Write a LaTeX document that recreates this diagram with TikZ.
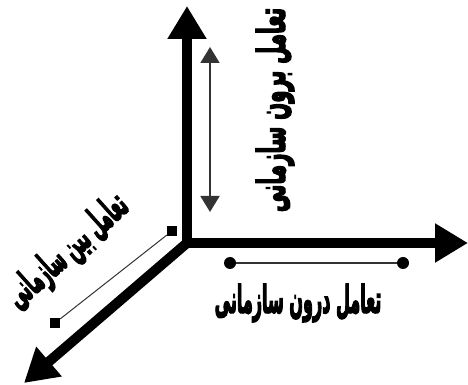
\documentclass[tikz,border=0pt]{standalone}
\usepackage{fontspec}
\usepackage{graphicx}
\usetikzlibrary{arrows.meta}
\TeXXeTstate=1
\newfontfamily\arabicfont[Script=Arabic]{DejaVu Sans}
\definecolor{ink}{HTML}{000000}
\definecolor{rule}{HTML}{333333}
\tikzset{
  axis/.style={line width=10pt, draw=ink, -{Triangle[length=33pt,width=37pt]}},
  span/.style={line width=1.8pt, draw=rule, {Triangle[length=16pt,width=19pt]}-{Triangle[length=16pt,width=19pt]}},
  bar/.style={line width=1.5pt, draw=rule},
  dot/.style={circle, fill=ink, inner sep=0pt, minimum size=12pt},
  tick/.style={rectangle, fill=ink, inner sep=0pt, minimum size=10pt},
  farsi/.style={font=\arabicfont\bfseries\fontsize{18}{20}\selectfont, inner sep=0pt}
}
% heavier glyphs: fill and stroke the outlines
\newcommand{\fa}[2][1]{\scalebox{#1}[2.1]{\special{pdf:literal direct 2 Tr 0.9 w}\beginR #2\endR\special{pdf:literal direct 0 Tr}}}

\begin{document}
\begin{tikzpicture}[x=1pt,y=1pt]
\useasboundingbox (0,0) rectangle (468,385);

% axes
\coordinate (origin) at (187,142);
\coordinate (upend) at (187,379);
\coordinate (rightend) at (468,142);
\coordinate (diagend) at (24,2);
\draw[axis] (origin) -- (upend);
\draw[axis] (origin) -- (rightend);
\draw[axis] (origin) -- (diagend);

% extra-organisational span
\coordinate (spantop) at (210,338);
\coordinate (spanbot) at (210,173);
\draw[span] (spanbot) -- (spantop);
\node[farsi, rotate=90] (outer) at (275,275) {\fa[1.1]{تعامل برون سازمانی}};

% intra-organisational span
\node[dot] (dleft) at (230,122) {};
\node[dot] (dright) at (403,122) {};
\draw[bar] (dleft) -- (dright);
\node[farsi] (inner) at (298,82) {\fa[0.89]{تعامل درون سازمانی}};

% inter-organisational span
\node[tick] (sqtop) at (172,154) {};
\node[tick] (sqbot) at (55,62) {};
\draw[bar, line width=1pt] (sqtop) -- (sqbot);
\node[farsi, rotate=42] (between) at (68,133) {\fa[0.88]{تعامل بین سازمانی}};

\end{tikzpicture}
\end{document}
